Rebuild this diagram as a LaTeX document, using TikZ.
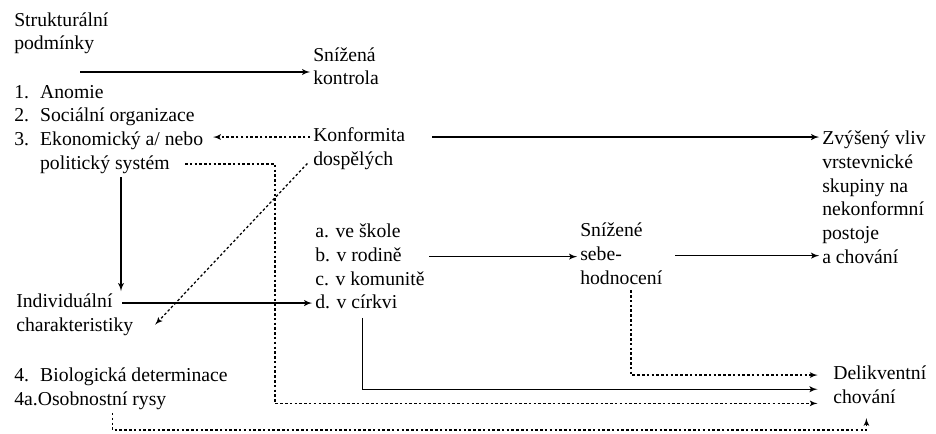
\documentclass[tikz,border=0pt]{standalone}
\usepackage{fontspec}
\setmainfont{Liberation Serif}
\usepackage{tikz}
\usetikzlibrary{arrows}
\newcommand{\numbox}[1]{\makebox[18.4pt][l]{#1}}

\begin{document}
\begin{tikzpicture}[x=0.025cm,y=-0.025cm]
    \tikzset{lbl/.style={inner sep=0pt,anchor=base west,align=left,font=\fontsize{14}{16.8}\selectfont}}
    % lineup=n : middle of the n-th line above the last one
    \tikzset{lineup/.style={yshift={3.5pt+(#1)*16.8pt}}}
    \tikzset{edge/.style={->,>=latex',line width=1pt,shorten >=2pt}}
    \tikzset{dotedge/.style={edge,line width=0.9pt,dash pattern=on 1.8pt off 1.6pt}}
    \useasboundingbox (0,0) rectangle (936,434);

    \node[lbl] (struk) at (14,50) {Strukturální\\podmínky};
    \node[lbl] (snk) at (313,85) {Snížená\\kontrola};
    \node[lbl] (cond) at (14,169) {\numbox{1.}Anomie\\\numbox{2.}Sociální organizace\\\numbox{3.}Ekonomický a/ nebo\\\numbox{}politický systém};
    \node[lbl] (konf) at (313,165.6) {Konformita\\dospělých};
    \node[lbl] (peer) at (822,263) {Zvýšený vliv\\vrstevnické\\skupiny na\\nekonformní\\postoje\\a chování};
    \node[lbl] (indiv) at (16,331.6) {Individuální\\charakteristiky};
    \node[lbl] (inst) at (315,308.8) {a. ve škole\\b. v rodině\\c. v komunitě\\d. v církvi};
    \node[lbl] (self) at (580,284.2) {Snížené\\sebe-\\hodnocení};
    \node[lbl] (delik) at (833,403.6) {Delikventní\\chování};
    \node[lbl] (bio) at (14,405.6) {\numbox{4.}Biologická determinace\\4a.Osobnostní rysy};

    \coordinate (sp) at (80,72);
    \coordinate (pe) at (185,164);
    \coordinate (pk) at (275,164);
    \coordinate (cs) at (121,177);

    \draw[edge] (sp) -- (sp -| snk.west);
    \draw[dotedge] ([lineup=1,xshift=-2pt]konf.base west) -- ([lineup=1,xshift=5pt]konf.base west -| cond.east);
    \draw[edge] ([lineup=1,xshift=19pt]konf.base east) -- ([lineup=1]konf.base east -| peer.west);
    \draw[dotedge] (pe) -- (pk) |- ([lineup=-0.2,xshift=-9pt]delik.base west);
    \draw[edge] (cs) -- (cs |- indiv.north);
    \draw[dotedge] ([lineup=0,xshift=-4pt,yshift=-2pt]konf.base west) -- ([lineup=0,xshift=14pt]indiv.base east);
    \draw[edge] ([lineup=1,xshift=-8pt]indiv.base east) -- ([lineup=1]indiv.base east -| inst.west);
    \draw[edge] ([lineup=2,xshift=3pt]inst.base east) -- ([lineup=2]inst.base east -| self.west);
    \draw[edge] ([lineup=1,xshift=9pt]self.base east) -- ([lineup=1]self.base east -| peer.west);
    \draw[dotedge] ([xshift=7pt,yshift=-4pt]self.south) |- ([lineup=1,xshift=-9pt]delik.base west);
    \draw[edge] ([xshift=-5.5pt,yshift=-6pt]inst.south) |- ([lineup=0.4,xshift=-9pt]delik.base west);
    \draw[dotedge] ([xshift=-6pt,yshift=-2pt]bio.south) -- ++(0,17) -| ([xshift=-9.5pt,yshift=-8pt]delik.south);
\end{tikzpicture}
\end{document}
